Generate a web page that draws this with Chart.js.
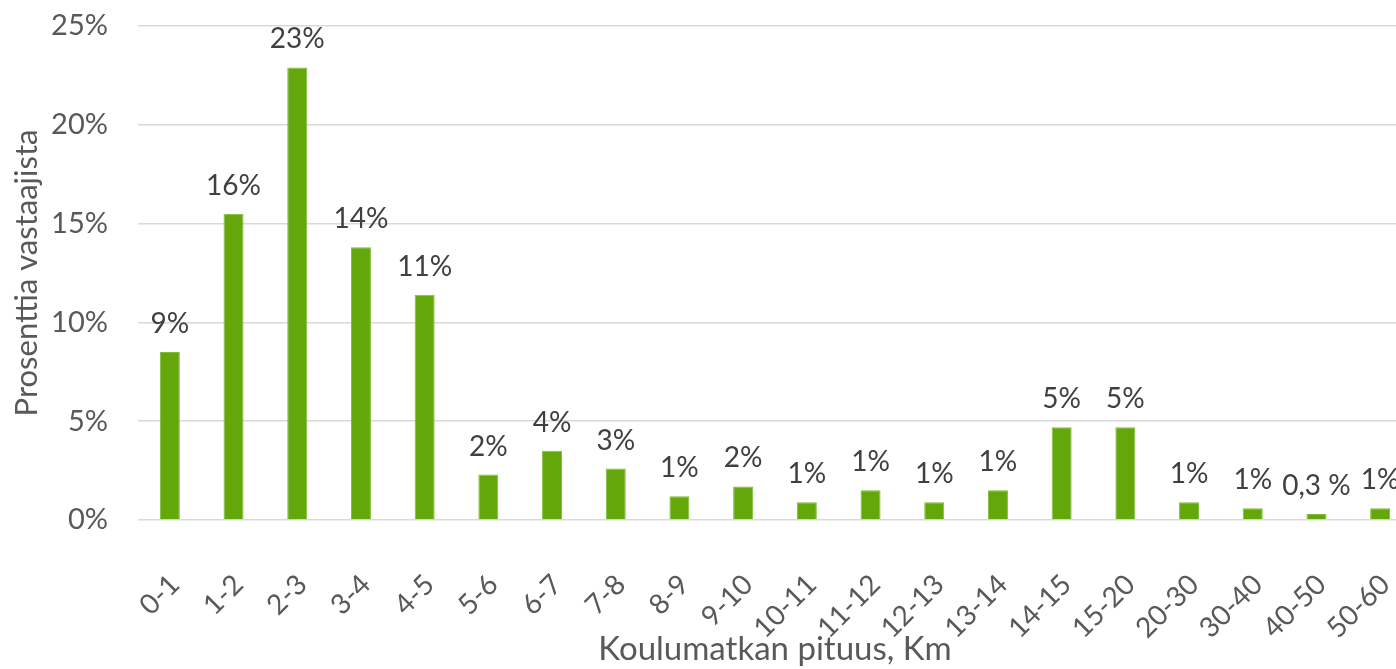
<!DOCTYPE html>
<html>
<head>
<meta charset="utf-8">
<script src="https://cdn.jsdelivr.net/npm/chart.js@4/dist/chart.umd.min.js"></script>
<style>
  html, body { margin: 0; padding: 0; background: #fff; overflow: hidden; }
  #wrap { width: 1396px; height: 669px; overflow: hidden; }
</style>
</head>
<body>
<div id="wrap"><canvas id="chart" width="1420" height="669"></canvas></div>
<script>
// chart data
const categories = ['0-1', '1-2', '2-3', '3-4', '4-5', '5-6', '6-7', '7-8', '8-9', '9-10',
    '10-11', '11-12', '12-13', '13-14', '14-15', '15-20', '20-30', '30-40', '40-50', '50-60'];
const shares = [8.5, 15.5, 22.9, 13.8, 11.4, 2.3, 3.5, 2.6, 1.2, 1.7,
    0.9, 1.5, 0.9, 1.5, 4.7, 4.7, 0.9, 0.6, 0.3, 0.6];
const valueLabels = ['9%', '16%', '23%', '14%', '11%', '2%', '4%', '3%', '1%', '2%',
    '1%', '1%', '1%', '1%', '5%', '5%', '1%', '1%', '0,3 %', '1%'];
const yTicks = [0, 5, 10, 15, 20, 25];

const fontFamily = 'Lato, "Open Sans", sans-serif';

// draws the value text above each bar
const barLabels = {
    id: 'barLabels',
    afterDatasetsDraw(chart) {
        const ctx = chart.ctx;
        const meta = chart.getDatasetMeta(0);
        ctx.save();
        ctx.font = '28px ' + fontFamily;
        ctx.fillStyle = '#404040';
        ctx.textAlign = 'center';
        ctx.textBaseline = 'alphabetic';
        meta.data.forEach((bar, i) => {
            ctx.fillText(valueLabels[i], bar.x, bar.y - 19);
        });
        ctx.restore();
    }
};

new Chart(document.getElementById('chart').getContext('2d'), {
    type: 'bar',
    data: {
        labels: categories,
        datasets: [{
            data: shares,
            backgroundColor: '#64a70b',
            borderColor: '#82bb3c',
            borderWidth: 1,
            categoryPercentage: 1,
            barPercentage: 0.314
        }]
    },
    options: {
        responsive: false,
        animation: false,
        layout: { padding: { left: 0, right: 8, top: 26, bottom: 0 } },
        plugins: {
            legend: { display: false },
            tooltip: { enabled: false }
        },
        scales: {
            x: {
                grid: { display: false },
                border: { display: false },
                ticks: {
                    color: '#595959',
                    font: { family: fontFamily, size: 28 },
                    minRotation: 45,
                    maxRotation: 45,
                    autoSkip: false,
                    padding: 40,
                    labelOffset: 5
                },
                title: {
                    display: true,
                    text: 'Koulumatkan pituus, Km',
                    color: '#595959',
                    font: { family: fontFamily, size: 33 },
                    padding: { top: 0, bottom: 0 }
                },
                afterFit: function (scale) {
                    scale.height = 149;
                    scale.paddingLeft = 0;
                    scale.paddingRight = 0;
                }
            },
            y: {
                min: 0,
                max: 25,
                afterBuildTicks: function (scale) {
                    scale.ticks = yTicks.map(v => ({ value: v }));
                },
                grid: { color: '#d9d9d9', lineWidth: 1.5, drawTicks: false },
                border: { display: false },
                ticks: {
                    color: '#595959',
                    font: { family: fontFamily, size: 29 },
                    padding: 30,
                    callback: v => v + '%'
                },
                title: {
                    display: true,
                    text: 'Prosenttia vastaajista',
                    color: '#595959',
                    font: { family: fontFamily, size: 31 },
                    padding: { top: 8, bottom: 0 }
                },
                afterFit: function (scale) {
                    scale.width = 138;
                    scale.paddingTop = 0;
                    scale.paddingBottom = 0;
                }
            }
        }
    },
    plugins: [barLabels]
});
</script>
</body>
</html>
